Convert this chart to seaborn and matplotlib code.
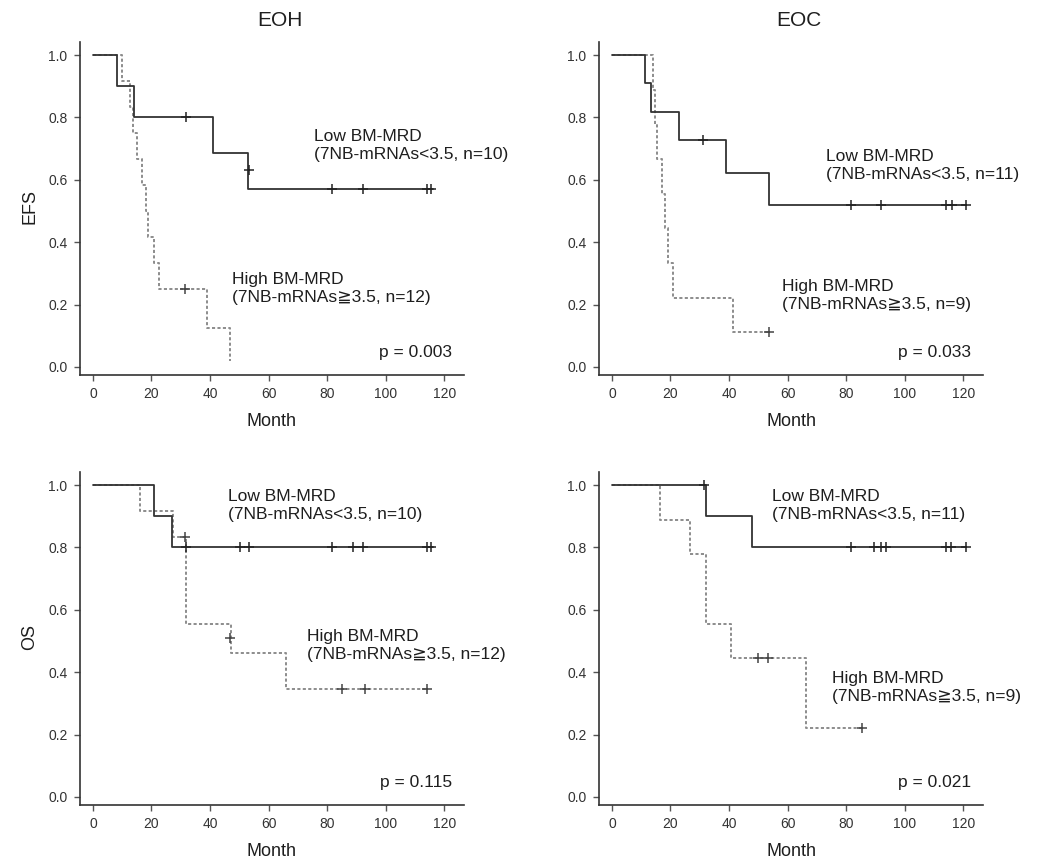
import matplotlib
matplotlib.use("Agg")
import matplotlib.pyplot as plt
import seaborn as sns

# ---------------- data ----------------
# EFS, EOH
efs_eoh_low_t = [0, 8.1, 14.1, 41.0, 53.0, 116]
efs_eoh_low_s = [1.0, 0.9, 0.8, 0.686, 0.571, 0.571]
efs_eoh_low_ct = [31.7, 53.3, 81.5, 92.3, 113.9, 115.6]
efs_eoh_low_cs = [0.8, 0.63, 0.571, 0.571, 0.571, 0.571]
efs_eoh_high_t = [0, 9.8, 12.6, 13.8, 14.9, 16.6, 18.0, 18.9, 20.9, 22.6, 38.8, 46.8]
efs_eoh_high_s = [1.0, 0.917, 0.833, 0.75, 0.667, 0.583, 0.5, 0.417, 0.333, 0.25, 0.125, 0.02]
efs_eoh_high_ct = [31.4]
efs_eoh_high_cs = [0.25]

# EFS, EOC
efs_eoc_low_t = [0, 11.3, 13.2, 22.8, 39.1, 53.7, 121]
efs_eoc_low_s = [1.0, 0.909, 0.818, 0.727, 0.623, 0.519, 0.519]
efs_eoc_low_ct = [31.2, 81.5, 92.0, 114.2, 116.2, 120.8]
efs_eoc_low_cs = [0.727, 0.519, 0.519, 0.519, 0.519, 0.519]
efs_eoc_high_t = [0, 14.0, 14.6, 15.3, 17.2, 18.1, 19.0, 21.0, 41.5, 53.5]
efs_eoc_high_s = [1.0, 0.889, 0.778, 0.667, 0.556, 0.444, 0.333, 0.222, 0.111, 0.111]
efs_eoc_high_ct = [53.5]
efs_eoc_high_cs = [0.111]

# OS, EOH
os_eoh_low_t = [0, 20.7, 26.9, 116]
os_eoh_low_s = [1.0, 0.9, 0.8, 0.8]
os_eoh_low_ct = [31.9, 50.2, 53.2, 81.7, 88.9, 92.3, 113.9, 115.6]
os_eoh_low_cs = [0.8, 0.8, 0.8, 0.8, 0.8, 0.8, 0.8, 0.8]
os_eoh_high_t = [0, 16.0, 27.4, 31.8, 47.3, 66.1, 114.5]
os_eoh_high_s = [1.0, 0.917, 0.833, 0.556, 0.463, 0.347, 0.347]
os_eoh_high_ct = [31.4, 46.8, 85.2, 92.8, 113.9]
os_eoh_high_cs = [0.833, 0.51, 0.347, 0.347, 0.347]

# OS, EOC
os_eoc_low_t = [0, 32.3, 47.7, 121]
os_eoc_low_s = [1.0, 0.9, 0.8, 0.8]
os_eoc_low_ct = [31.4, 81.7, 89.6, 91.9, 93.6, 114.2, 115.9, 121.0]
os_eoc_low_cs = [1.0, 0.8, 0.8, 0.8, 0.8, 0.8, 0.8, 0.8]
os_eoc_high_t = [0, 16.4, 26.5, 32.0, 40.8, 66.4, 85.4]
os_eoc_high_s = [1.0, 0.889, 0.778, 0.556, 0.444, 0.222, 0.222]
os_eoc_high_ct = [50.0, 53.4, 85.4]
os_eoc_high_cs = [0.444, 0.444, 0.222]

col_titles = ["EOH", "EOC"]
row_labels = ["EFS", "OS"]
low_labels = ["Low BM-MRD\n(7NB-mRNAs<3.5, n=10)", "Low BM-MRD\n(7NB-mRNAs<3.5, n=11)"]
high_labels = ["High BM-MRD\n(7NB-mRNAs\u22673.5, n=12)", "High BM-MRD\n(7NB-mRNAs\u22673.5, n=9)"]
p_values = [["p = 0.003", "p = 0.033"], ["p = 0.115", "p = 0.021"]]
x_ticks = [0, 20, 40, 60, 80, 100, 120]
y_ticks = [0.0, 0.2, 0.4, 0.6, 0.8, 1.0]

# ---------------- style ----------------
sns.set_theme(style="ticks")
plt.rcParams['font.family'] = ['Liberation Sans', 'DejaVu Sans', 'Noto Sans CJK JP']

W, H = 1040, 861
fig = plt.figure(figsize=(W / 100, H / 100), dpi=100)

def axpos(left, top, right, bottom):
    return [left / W, 1 - bottom / H, (right - left) / W, (bottom - top) / H]

panels = [
    [(efs_eoh_low_t, efs_eoh_low_s, efs_eoh_low_ct, efs_eoh_low_cs,
      efs_eoh_high_t, efs_eoh_high_s, efs_eoh_high_ct, efs_eoh_high_cs),
     (efs_eoc_low_t, efs_eoc_low_s, efs_eoc_low_ct, efs_eoc_low_cs,
      efs_eoc_high_t, efs_eoc_high_s, efs_eoc_high_ct, efs_eoc_high_cs)],
    [(os_eoh_low_t, os_eoh_low_s, os_eoh_low_ct, os_eoh_low_cs,
      os_eoh_high_t, os_eoh_high_s, os_eoh_high_ct, os_eoh_high_cs),
     (os_eoc_low_t, os_eoc_low_s, os_eoc_low_ct, os_eoc_low_cs,
      os_eoc_high_t, os_eoc_high_s, os_eoc_high_ct, os_eoc_high_cs)],
]

ax_lefts = [80, 599]
ax_tops = [42, 472]
ax_h = 333
ax_w = 384

# label placement (data coords) per panel: (low_x, low_y, high_x, high_y)
label_pos = [[(75.5, 0.71, 47.5, 0.25), (73.0, 0.645, 58.0, 0.228)],
             [(46.0, 0.935, 73.0, 0.487), (54.5, 0.935, 75.0, 0.351)]]

solid_col = "#333333"
dash_col = "#8c8c8c"
text_col = "#1e1e1e"

for r in range(2):
    for c in range(2):
        lt, ls, lct, lcs, ht, hs, hct, hcs = panels[r][c]
        ax = fig.add_axes(axpos(ax_lefts[c], ax_tops[r], ax_lefts[c] + ax_w, ax_tops[r] + ax_h))
        sns.lineplot(x=ht, y=hs, drawstyle="steps-post", estimator=None, sort=False,
                     color=dash_col, lw=1.4, linestyle=(0, (1.6, 1.2)), ax=ax)
        sns.lineplot(x=lt, y=ls, drawstyle="steps-post", estimator=None, sort=False,
                     color=solid_col, lw=1.3, ax=ax)
        sns.scatterplot(x=hct, y=hcs, marker="+", s=45, color="#444444", linewidth=1.1, ax=ax, zorder=5)
        sns.scatterplot(x=lct, y=lcs, marker="+", s=45, color="#222222", linewidth=1.1, ax=ax, zorder=5)

        ax.set_xlim(-4.4, 126.7)
        ax.set_ylim(-0.026, 1.042)
        ax.set_xticks(x_ticks)
        ax.set_yticks(y_ticks)
        ax.set_xticklabels([str(v) for v in x_ticks])
        ax.set_yticklabels([f"{v:.1f}" for v in y_ticks])
        ax.tick_params(axis="both", direction="out", length=4, width=1.0, color="#555555",
                       labelsize=10, labelcolor="#333333", pad=5)
        for side in ["top", "right"]:
            ax.spines[side].set_visible(False)
        for side in ["left", "bottom"]:
            ax.spines[side].set_color("#333333")
            ax.spines[side].set_linewidth(1.2)
        ax.set_xlabel("Month", fontsize=13, color=text_col, labelpad=8)
        ax.set_ylabel("")

        lx, ly, hx, hy = label_pos[r][c]
        ax.text(lx, ly, low_labels[c], fontsize=12.5, color=text_col, ha="left", va="center",
                linespacing=1.25, clip_on=False)
        ax.text(hx, hy, high_labels[c], fontsize=12.5, color=text_col, ha="left", va="center",
                linespacing=1.25, clip_on=False)
        ax.text(122.5, 0.045, p_values[r][c], fontsize=12.5, color=text_col, ha="right", va="center")

for c in range(2):
    fig.text((ax_lefts[c] + ax_w / 2 + 8) / W, 1 - 20 / H, col_titles[c], fontsize=15,
             color=text_col, ha="center", va="center")
for r in range(2):
    fig.text(30 / W, 1 - (ax_tops[r] + 165) / H, row_labels[r], fontsize=13, rotation=90,
             color=text_col, ha="center", va="center")

fig.savefig("out.png", dpi=100, facecolor="white")
